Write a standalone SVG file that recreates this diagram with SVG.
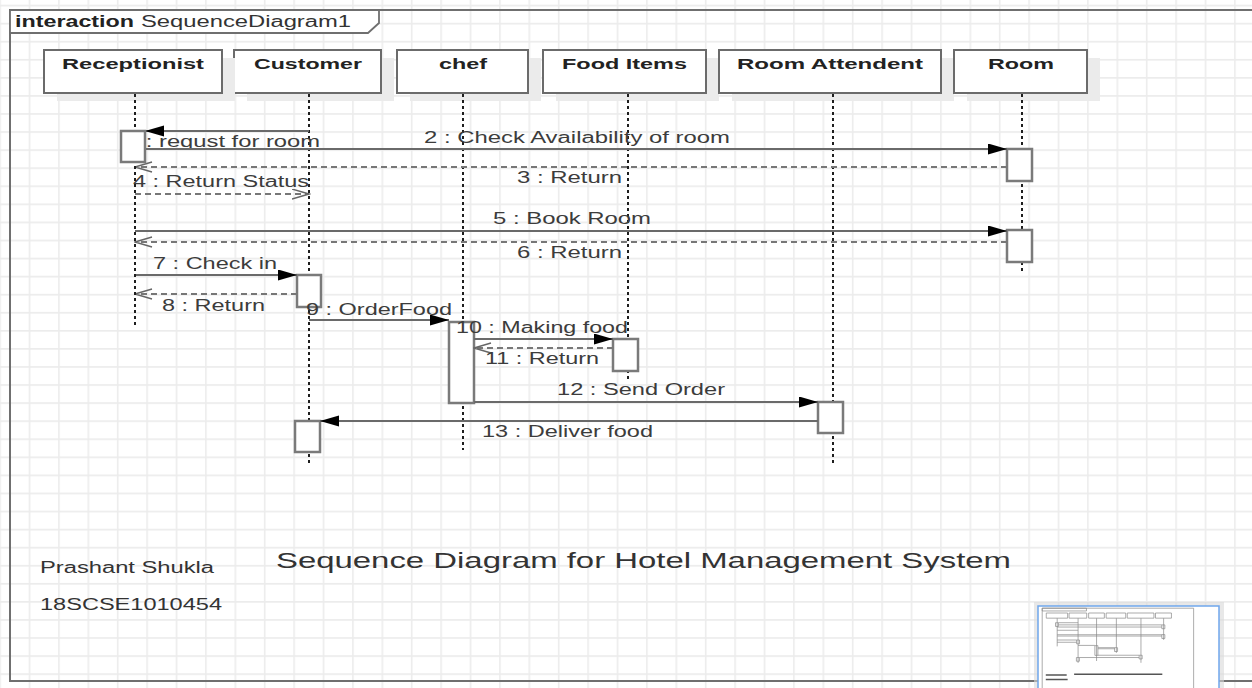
<svg xmlns="http://www.w3.org/2000/svg" width="1252" height="688" viewBox="0 0 1252 688">
<defs>
<style>
text{font-family:"Liberation Sans",Arial,sans-serif}
.lbl{font-size:16px;fill:#3c3c3c}
.head{font-size:15.5px;font-weight:bold;fill:#222}
.box{fill:#fff;stroke:#6b6b6b;stroke-width:2}
.shadow{fill:#ebebeb}
.life{stroke:#1e1e1e;stroke-width:2;stroke-dasharray:3 3;fill:none}
.act{fill:#fff;stroke:#7a7a7a;stroke-width:2.5}
.msg{stroke:#6a6a6a;stroke-width:2;fill:none;marker-end:url(#filled)}
.ret{stroke:#777;stroke-width:1.8;stroke-dasharray:6 4;fill:none;marker-end:url(#open)}
.mini *{vector-effect:non-scaling-stroke}
</style>
<pattern id="grid" width="29.4" height="18.07" patternUnits="userSpaceOnUse" x="-0.7" y="4.7">
<path d="M0.8,0 V18.07 M0,0.8 H29.4" stroke="#ececec" stroke-width="1.6" fill="none"/>
</pattern>
<marker id="filled" markerUnits="userSpaceOnUse" markerWidth="20" markerHeight="12" refX="19" refY="5.5" orient="auto">
<path d="M0,0 L19,5.5 L0,11 z" fill="#000"/>
</marker>
<marker id="open" markerUnits="userSpaceOnUse" markerWidth="19" markerHeight="12" refX="17.5" refY="5.5" orient="auto">
<path d="M0.5,0.5 L17.5,5.5 L0.5,10.5" fill="none" stroke="#666" stroke-width="1.4"/>
</marker>
</defs>
<rect width="1252" height="688" fill="#fff"/>
<rect width="1252" height="688" fill="url(#grid)"/>

<g id="frame">
<rect x="10" y="10" width="1262" height="671" fill="none" stroke="#6f6f6f" stroke-width="2"/>
<polygon points="10,10 379,10 379,23 368,33 10,33" fill="#fff" stroke="#6f6f6f" stroke-width="1.8"/>
<text x="15" y="27" font-size="16" font-weight="bold" fill="#222" textLength="119" lengthAdjust="spacingAndGlyphs">interaction</text>
<text x="141" y="27" font-size="16" fill="#333" textLength="210" lengthAdjust="spacingAndGlyphs">SequenceDiagram1</text>
</g>

<g id="customer">
<rect class="shadow" x="247" y="58" width="147" height="43"/>
<rect class="box" x="234" y="50" width="147" height="43"/>
<text class="head" x="308" y="69" text-anchor="middle" textLength="108" lengthAdjust="spacingAndGlyphs">Customer</text>
<line class="life" x1="309" y1="94" x2="309" y2="466"/>
<rect class="act" x="297" y="275" width="24" height="32"/>
<rect class="act" x="295" y="421" width="25" height="31"/>
</g>

<g id="chef">
<rect class="shadow" x="410" y="58" width="131" height="43"/>
<rect class="box" x="397" y="50" width="131" height="43"/>
<text class="head" x="463" y="69" text-anchor="middle" textLength="48" lengthAdjust="spacingAndGlyphs">chef</text>
<line class="life" x1="463" y1="94" x2="463" y2="450"/>
<rect class="act" x="449" y="322" width="25" height="81"/>
</g>

<g id="food-items">
<rect class="shadow" x="556" y="58" width="163" height="43"/>
<rect class="box" x="543" y="50" width="163" height="43"/>
<text class="head" x="624.5" y="69" text-anchor="middle" textLength="125" lengthAdjust="spacingAndGlyphs">Food Items</text>
<line class="life" x1="628" y1="94" x2="628" y2="382"/>
<rect class="act" x="613" y="339" width="25" height="32"/>
</g>

<g id="room-attendent">
<rect class="shadow" x="732" y="58" width="222" height="43"/>
<rect class="box" x="719" y="50" width="222" height="43"/>
<text class="head" x="830" y="69" text-anchor="middle" textLength="186" lengthAdjust="spacingAndGlyphs">Room Attendent</text>
<line class="life" x1="833" y1="94" x2="833" y2="465"/>
<rect class="act" x="818" y="402" width="25" height="31"/>
</g>

<g id="room">
<rect class="shadow" x="967" y="58" width="133" height="43"/>
<rect class="box" x="954" y="50" width="133" height="43"/>
<text class="head" x="1021" y="69" text-anchor="middle" textLength="66" lengthAdjust="spacingAndGlyphs">Room</text>
<line class="life" x1="1022" y1="94" x2="1022" y2="274"/>
<rect class="act" x="1007" y="149" width="25" height="32"/>
<rect class="act" x="1007" y="230" width="25" height="32"/>
</g>

<g id="connectors">
<line class="msg" x1="309" y1="131" x2="145" y2="131"/>
<text class="lbl" x="126" y="147" textLength="194" lengthAdjust="spacingAndGlyphs">1 : requst for room</text>
<line class="msg" x1="145" y1="149" x2="1007" y2="149"/>
<text class="lbl" x="424" y="143" textLength="306" lengthAdjust="spacingAndGlyphs">2 : Check Availability of room</text>
<line class="ret" x1="1007" y1="167" x2="135" y2="167"/>
<text class="lbl" x="517" y="183" textLength="105" lengthAdjust="spacingAndGlyphs">3 : Return</text>
<line class="ret" x1="135" y1="194" x2="309" y2="194"/>
<text class="lbl" x="133" y="187" textLength="176" lengthAdjust="spacingAndGlyphs">4 : Return Status</text>
<line class="msg" x1="135" y1="231" x2="1007" y2="231"/>
<text class="lbl" x="493" y="224" textLength="158" lengthAdjust="spacingAndGlyphs">5 : Book Room</text>
<line class="ret" x1="1007" y1="242" x2="135" y2="242"/>
<text class="lbl" x="517" y="258" textLength="105" lengthAdjust="spacingAndGlyphs">6 : Return</text>
<line class="msg" x1="135" y1="275" x2="297" y2="275"/>
<text class="lbl" x="153" y="269" textLength="124" lengthAdjust="spacingAndGlyphs">7 : Check in</text>
<line class="ret" x1="297" y1="294" x2="135" y2="294"/>
<text class="lbl" x="162" y="311" textLength="103" lengthAdjust="spacingAndGlyphs">8 : Return</text>
<line class="msg" x1="309" y1="320" x2="449" y2="320"/>
<text class="lbl" x="306" y="315" textLength="146" lengthAdjust="spacingAndGlyphs">9 : OrderFood</text>
<line class="msg" x1="474" y1="339" x2="613" y2="339"/>
<text class="lbl" x="456" y="333" textLength="172" lengthAdjust="spacingAndGlyphs">10 : Making food</text>
<line class="ret" x1="613" y1="348" x2="474" y2="348"/>
<text class="lbl" x="485" y="364" textLength="114" lengthAdjust="spacingAndGlyphs">11 : Return</text>
<line class="msg" x1="474" y1="402" x2="818" y2="402"/>
<text class="lbl" x="557" y="395" textLength="168" lengthAdjust="spacingAndGlyphs">12 : Send Order</text>
<line class="msg" x1="818" y1="421" x2="320" y2="421"/>
<text class="lbl" x="482" y="437" textLength="171" lengthAdjust="spacingAndGlyphs">13 : Deliver food</text>
</g>

<g id="receptionist">
<rect class="shadow" x="57" y="58" width="178" height="43"/>
<rect class="box" x="44" y="50" width="178" height="43"/>
<text class="head" x="133" y="69" text-anchor="middle" textLength="142" lengthAdjust="spacingAndGlyphs">Receptionist</text>
<line class="life" x1="135" y1="94" x2="135" y2="328"/>
<rect class="act" x="121" y="131" width="24" height="31"/>
</g>

<g id="notes">
<text x="40" y="573" font-size="16" fill="#333" textLength="174" lengthAdjust="spacingAndGlyphs">Prashant Shukla</text>
<text x="40" y="610" font-size="16" fill="#333" textLength="182" lengthAdjust="spacingAndGlyphs">18SCSE1010454</text>
<text x="276" y="568" font-size="22" fill="#333" textLength="735" lengthAdjust="spacingAndGlyphs">Sequence Diagram for Hotel Management System</text>
</g>

<g id="overview">
<rect x="1034" y="602" width="190" height="90" fill="#d8d8d8" opacity="0.6"/>
<rect x="1038" y="606" width="181" height="90" fill="#fff" stroke="#6fa6ec" stroke-width="1.5"/>
<g class="mini" transform="translate(1041,607) scale(0.12)" fill="none" stroke="#888" stroke-width="0.7">
<rect x="10" y="10" width="1262" height="671"/>
<rect x="10" y="10" width="369" height="23"/>
<rect x="44" y="50" width="178" height="43"/>
<rect x="234" y="50" width="147" height="43"/>
<rect x="397" y="50" width="131" height="43"/>
<rect x="543" y="50" width="163" height="43"/>
<rect x="719" y="50" width="222" height="43"/>
<rect x="954" y="50" width="133" height="43"/>
<path d="M135,94V328 M309,94V466 M463,94V450 M628,94V382 M833,94V465 M1022,94V274"/>
<path d="M145,131H309 M145,149H1007 M135,167H1007 M135,194H309 M135,231H1007 M135,242H1007 M135,275H297 M135,294H297 M309,320H449 M474,339H613 M474,348H613 M474,402H818 M320,421H818"/>
<rect x="121" y="131" width="24" height="31"/>
<rect x="449" y="322" width="25" height="81"/>
<rect x="1007" y="149" width="25" height="32"/>
<rect x="1007" y="230" width="25" height="32"/>
<rect x="297" y="275" width="24" height="32"/>
<rect x="613" y="339" width="25" height="32"/>
<rect x="818" y="402" width="25" height="31"/>
<rect x="295" y="421" width="25" height="31"/>
<path d="M276,560H1011 M40,567H214 M40,604H222" stroke="#555" stroke-width="1.5"/>
</g>
</g>
</svg>
